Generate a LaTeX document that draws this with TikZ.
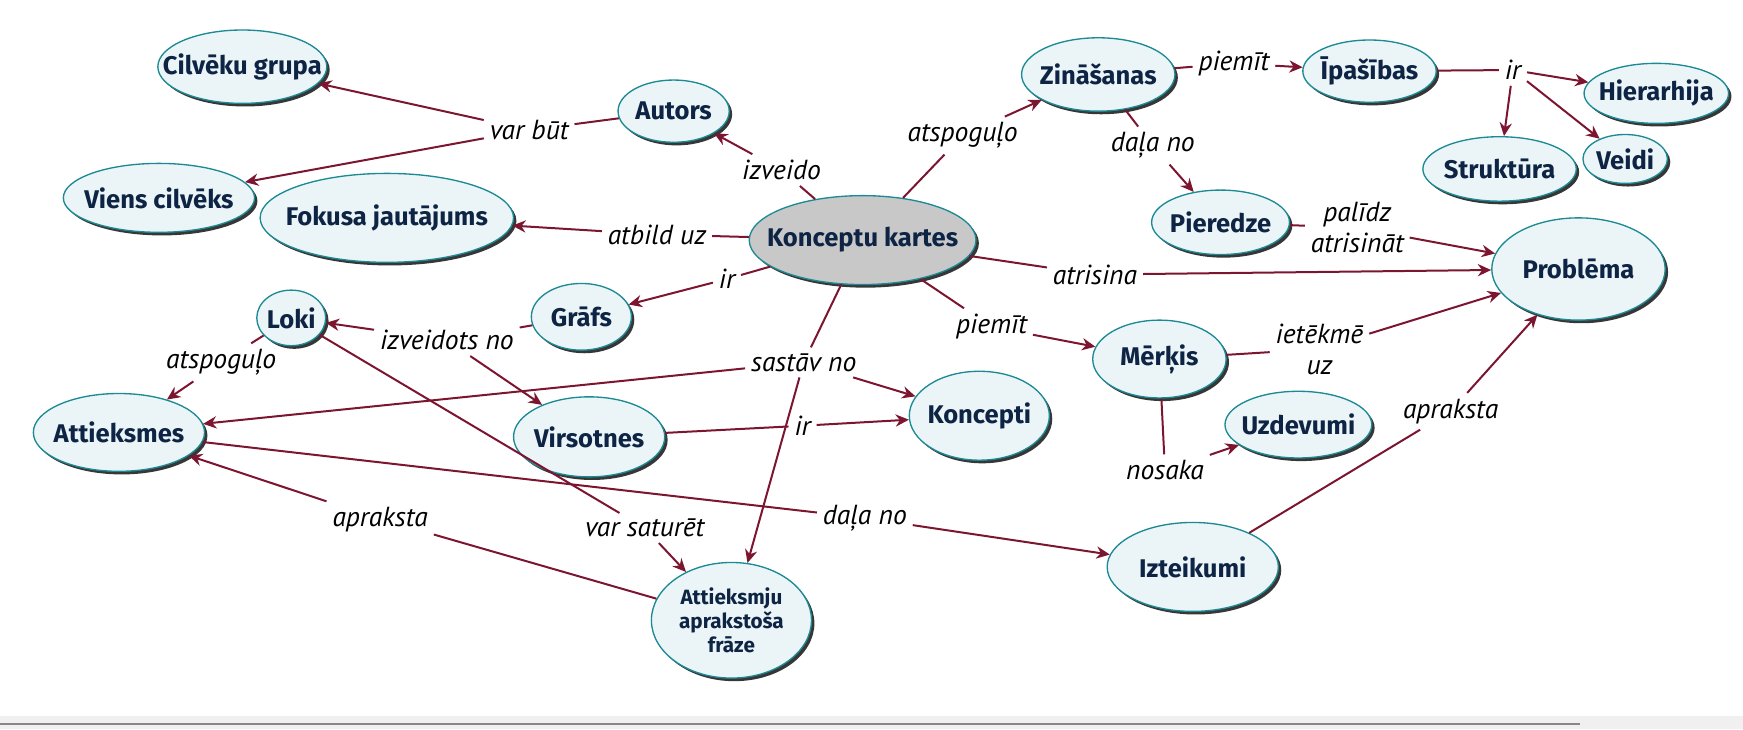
\documentclass[tikz,border=0pt]{standalone}
\usepackage{fontspec}
\setmainfont{PT Sans}
\newfontfamily\nodefont{Fira Sans}
\usetikzlibrary{shapes.geometric,shadows,arrows.meta}
\definecolor{cfill}{RGB}{235,244,246}
\definecolor{cborder}{RGB}{27,138,148}
\definecolor{cshadow}{RGB}{55,55,55}
\definecolor{ctextc}{RGB}{14,36,68}
\definecolor{clink}{RGB}{123,21,48}
\definecolor{cgray}{RGB}{200,200,200}
\definecolor{bandgray}{RGB}{240,240,240}
\definecolor{linegray}{RGB}{136,136,136}
\begin{document}
\begin{tikzpicture}[x=0.5pt,y=-0.5pt,
  concept/.style={ellipse, draw=cborder, fill=cfill, line width=0.6pt, inner sep=0pt,
    drop shadow={shadow xshift=1.3pt, shadow yshift=-1.4pt, fill=cshadow, opacity=1}},
  ctext/.style={font=\nodefont\bfseries\fontsize{11.5}{13}\selectfont, text=ctextc, inner sep=0pt, align=center},
  lbl/.style={font=\itshape\fontsize{12.4}{14}\selectfont, inner sep=2.5pt, text=black, align=center},
  link/.style={draw=clink, line width=0.9pt},
  arr/.style={link, -{Stealth[length=6pt,width=5.5pt]}}
]
\useasboundingbox (0,0) rectangle (1568,656);
\fill[bandgray] (0,644) rectangle (1568,656);
\draw[linegray, line width=0.8pt] (0,651.5) -- (1421,651.5);

% concepts
\node[concept, minimum width=76pt, minimum height=33pt, label={[ctext]center:Cilvēku grupa}] (cg) at (218,60) {};
\node[concept, minimum width=50pt, minimum height=28pt, label={[ctext]center:Autors}] (au) at (606,100) {};
\node[concept, minimum width=86pt, minimum height=31pt, label={[ctext]center:Viens cilvēks}] (vc) at (143,178) {};
\node[concept, minimum width=114pt, minimum height=40pt, label={[ctext]center:Fokusa jautājums}] (fj) at (348,196) {};
\node[concept, fill=cgray, minimum width=102pt, minimum height=40pt, label={[ctext]center:Konceptu kartes}] (kk) at (776,216) {};
\node[concept, minimum width=69pt, minimum height=33pt, label={[ctext]center:Zināšanas}] (zn) at (988,67) {};
\node[concept, minimum width=60pt, minimum height=28pt, label={[ctext]center:Īpašības}] (ip) at (1232,64) {};
\node[concept, minimum width=65pt, minimum height=27pt, label={[ctext]center:Hierarhija}] (hi) at (1490,84) {};
\node[concept, minimum width=69pt, minimum height=29pt, label={[ctext]center:Struktūra}] (st) at (1349,152) {};
\node[concept, minimum width=38pt, minimum height=22pt, label={[ctext]center:Veidi}] (ve) at (1462,143) {};
\node[concept, minimum width=62pt, minimum height=29pt, label={[ctext]center:Pieredze}] (pi) at (1098,200) {};
\node[concept, minimum width=78pt, minimum height=46pt, label={[ctext]center:Problēma}] (pr) at (1420,242) {};
\node[concept, minimum width=31pt, minimum height=25pt, label={[ctext]center:Loki}] (lo) at (262,286) {};
\node[concept, minimum width=45pt, minimum height=30pt, label={[ctext]center:Grāfs}] (gr) at (523,285) {};
\node[concept, minimum width=77pt, minimum height=35pt, label={[ctext]center:Attieksmes}] (at) at (107,389) {};
\node[concept, minimum width=68pt, minimum height=36pt, label={[ctext]center:Virsotnes}] (vi) at (530,393) {};
\node[concept, minimum width=63pt, minimum height=40pt, label={[ctext]center:Koncepti}] (ko) at (881,374) {};
\node[concept, minimum width=60pt, minimum height=35pt, label={[ctext]center:Mērķis}] (me) at (1043,323) {};
\node[concept, minimum width=66pt, minimum height=30pt, label={[ctext]center:Uzdevumi}] (uz) at (1168,382) {};
\node[concept, minimum width=77pt, minimum height=40pt, label={[ctext]center:Izteikumi}] (iz) at (1073,510) {};
\node[concept, minimum width=72pt, minimum height=52pt, label={[ctext,font=\nodefont\bfseries\fontsize{9.3}{11}\selectfont]center:Attieksmju\\aprakstoša\\frāze}] (af) at (658,558) {};

% link labels
\node[lbl] (lvb) at (476,117) {var būt};
\node[lbl] (liv) at (703,153) {izveido};
\node[lbl] (lab) at (591,211) {atbild uz};
\node[lbl] (las1) at (866,122) {atspoguļo};
\node[lbl] (lpm1) at (1110,57) {piemīt};
\node[lbl] (lir1) at (1361,63) {ir};
\node[lbl] (ldn1) at (1037,131) {daļa no};
\node[lbl] (lpa) at (1221,205) {palīdz\\atrisināt};
\node[lbl] (lat) at (985,247) {atrisina};
\node[lbl] (lir2) at (654,251) {ir};
\node[lbl] (lpm2) at (892,294) {piemīt};
\node[lbl] (lie) at (1187,314) {ietēkmē\\uz};
\node[lbl] (las2) at (199,326) {atspoguļo};
\node[lbl] (lizn) at (402,306) {izveidots no};
\node[lbl] (lsa) at (723,326) {sastāv no};
\node[lbl] (lir3) at (722,383) {ir};
\node[lbl] (lno) at (1048,423) {nosaka};
\node[lbl] (lap1) at (1305,370) {apraksta};
\node[lbl] (lap2) at (342,467) {apraksta};
\node[lbl] (lvs) at (580,475) {var saturēt};
\node[lbl] (ldn2) at (778,466) {daļa no};

% connectors
\draw[link] (au) -- (lvb);
\draw[arr] (lvb) -- (cg);
\draw[arr] (lvb) -- (vc);
\draw[link] (kk) -- (liv);
\draw[arr] (liv) -- (au);
\draw[link] (kk) -- (lab);
\draw[arr] (lab) -- (fj);
\draw[link] (kk) -- (las1);
\draw[arr] (las1) -- (zn);
\draw[link] (zn) -- (lpm1);
\draw[arr] (lpm1) -- (ip);
\draw[link] (ip) -- (lir1);
\draw[arr] (lir1) -- (hi);
\draw[arr] (lir1) -- (st);
\draw[arr] (lir1) -- (ve);
\draw[link] (zn) -- (ldn1);
\draw[arr] (ldn1) -- (pi);
\draw[link] (pi) -- (lpa);
\draw[arr] (lpa) -- (pr);
\draw[link] (kk) -- (lat);
\draw[arr] (lat) -- (pr);
\draw[link] (kk) -- (lir2);
\draw[arr] (lir2) -- (gr);
\draw[link] (kk) -- (lpm2);
\draw[arr] (lpm2) -- (me);
\draw[link] (me) -- (lie);
\draw[arr] (lie) -- (pr);
\draw[link] (me) -- (lno);
\draw[arr] (lno) -- (uz);
\draw[link] (iz) -- (lap1);
\draw[arr] (lap1) -- (pr);
\draw[link] (kk) -- (lsa);
\draw[arr] (lsa) -- (at);
\draw[arr] (lsa) -- (ko);
\draw[arr] (lsa) -- (af);
\draw[link] (gr) -- (lizn);
\draw[arr] (lizn) -- (lo);
\draw[arr] (lizn) -- (vi);
\draw[link] (lo) -- (las2);
\draw[arr] (las2) -- (at);
\draw[link] (vi) -- (lir3);
\draw[arr] (lir3) -- (ko);
\draw[link] (lo) -- (lvs);
\draw[arr] (lvs) -- (af);
\draw[link] (at) -- (ldn2);
\draw[arr] (ldn2) -- (iz);
\draw[link] (af) -- (lap2);
\draw[arr] (lap2) -- (at);
\end{tikzpicture}
\end{document}
